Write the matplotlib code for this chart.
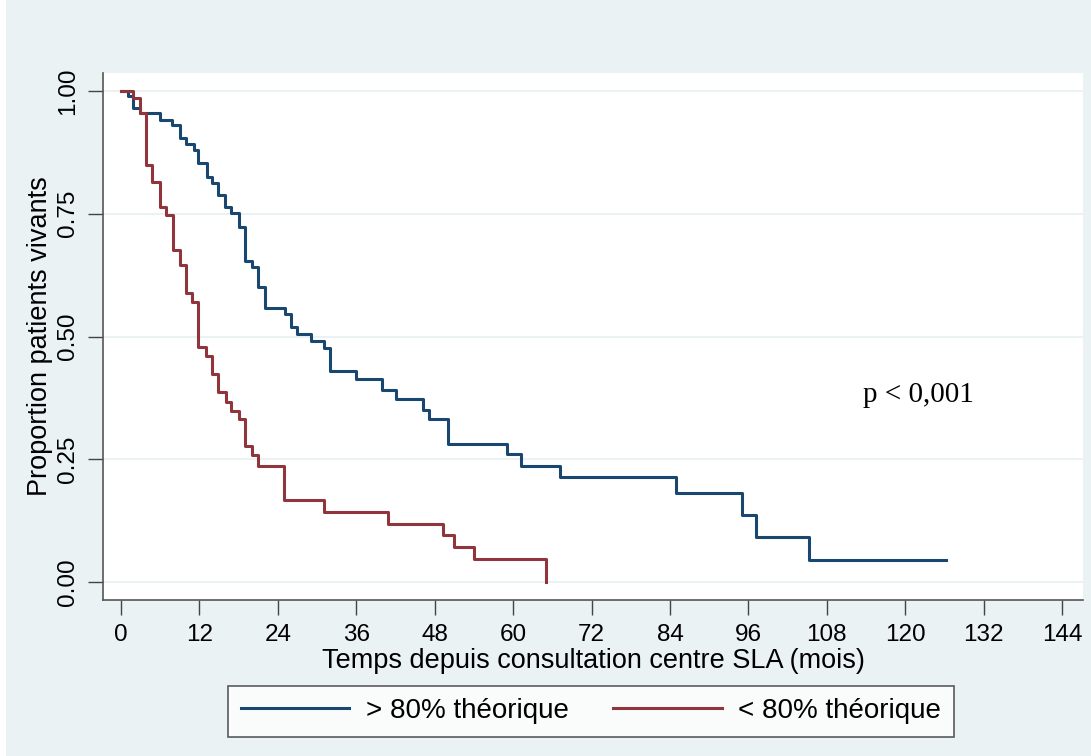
import numpy as np
import matplotlib.pyplot as plt
from matplotlib.patches import Rectangle

# Kaplan-Meier steps (time in months, survival after the step)
t_high = [0, 1.1, 1.9, 2.9, 6.0, 7.8, 9.0, 10.0, 11.1, 11.8, 13.1, 13.9, 14.9, 15.9,
          16.9, 18.0, 19.0, 20.0, 21.0, 22.0, 25.1, 26.0, 27.0, 29.0, 31.1, 32.0,
          36.0, 40.0, 42.1, 46.2, 47.2, 50.1, 59.0, 61.2, 67.2, 85.0, 95.1, 97.2,
          105.3, 126.3]
s_high = [1.00, 0.99, 0.965, 0.955, 0.941, 0.931, 0.904, 0.893, 0.880, 0.853, 0.825,
          0.812, 0.788, 0.764, 0.751, 0.724, 0.654, 0.642, 0.600, 0.559, 0.546, 0.519,
          0.505, 0.491, 0.476, 0.430, 0.413, 0.392, 0.372, 0.350, 0.331, 0.282, 0.261,
          0.236, 0.213, 0.182, 0.136, 0.091, 0.045, 0.045]

t_low = [0, 1.9, 2.9, 3.9, 4.7, 5.9, 6.9, 7.9, 9.0, 9.9, 10.8, 11.8, 13.0, 13.9, 14.9,
         16.1, 16.9, 18.0, 19.0, 20.0, 20.9, 24.9, 31.0, 40.9, 49.2, 51.0, 54.0, 65.0]
s_low = [1.00, 0.985, 0.955, 0.849, 0.815, 0.764, 0.747, 0.676, 0.646, 0.589, 0.571,
         0.479, 0.460, 0.424, 0.386, 0.367, 0.349, 0.331, 0.276, 0.259, 0.236, 0.166,
         0.143, 0.118, 0.096, 0.071, 0.046, 0.0]

xticks = np.arange(0, 145, 12)
yticks = [0, 0.25, 0.5, 0.75, 1.0]
ytick_labels = ["0.00", "0.25", "0.50", "0.75", "1.00"]

bg = "#eaf2f3"
blue = "#1a476f"
red = "#90353b"

plt.rcParams['font.family'] = ['Liberation Sans', 'DejaVu Sans']

W, H = 1091, 756
fig = plt.figure(figsize=(W / 100, H / 100), dpi=100, facecolor="white")
fig.patches.append(Rectangle((6 / W, 0), 1 - 6 / W, 1, transform=fig.transFigure,
                             facecolor=bg, edgecolor="none", zorder=-10))

ax = fig.add_axes([103 / W, 1 - 600 / H, (1083 - 103) / W, (600 - 73) / H])
ax.set_facecolor("white")

for y in yticks:
    ax.axhline(y, color=bg, lw=1.5, zorder=0)

ax.step(t_high, s_high, where="post", color=blue, lw=2.2, label="> 80% théorique")
ax.step(t_low, s_low, where="post", color=red, lw=2.2, label="< 80% théorique")

ax.set_xlim(-2.75, 147.2)
ax.set_ylim(-0.0367, 1.0367)
ax.set_xticks(xticks)
ax.set_yticks(yticks)
ax.set_yticklabels(ytick_labels, rotation=90, va="center")
ax.tick_params(axis="both", labelsize=17.5, length=11, width=1, color="#444444", pad=6)
ax.tick_params(axis="y", pad=6)

for side in ["top", "right"]:
    ax.spines[side].set_visible(False)
for side in ["left", "bottom"]:
    ax.spines[side].set_color("#555555")
    ax.spines[side].set_linewidth(1.2)

ax.set_xlabel("Temps depuis consultation centre SLA (mois)", fontsize=19.5, labelpad=2)
ax.set_ylabel("Proportion patients vivants", fontsize=19.5, labelpad=3)

ax.text(122, 0.38, "p < 0,001", family=["Liberation Serif", "DejaVu Serif"],
        fontsize=21, ha="center", va="center")

leg = fig.legend(loc="center", bbox_to_anchor=(591 / W, 1 - 711 / H), ncol=2,
                 fontsize=20, frameon=True, fancybox=False, edgecolor="#333333",
                 handlelength=3.9, columnspacing=1.6, borderpad=0.45, handletextpad=0.6)
leg.get_frame().set_linewidth(1.2)

fig.savefig("out.png", dpi=100, facecolor=fig.get_facecolor())
